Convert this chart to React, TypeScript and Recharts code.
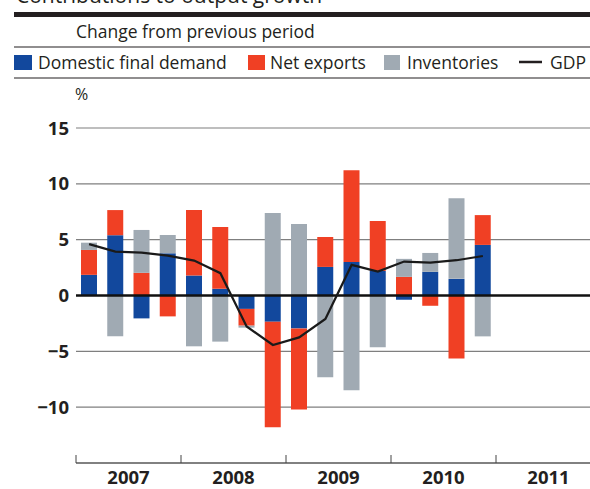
import {
  Bar,
  CartesianGrid,
  ComposedChart,
  Line,
  ReferenceLine,
  XAxis,
  YAxis,
} from "recharts";

const quarters = [
  "2007Q1", "2007Q2", "2007Q3", "2007Q4",
  "2008Q1", "2008Q2", "2008Q3", "2008Q4",
  "2009Q1", "2009Q2", "2009Q3", "2009Q4",
  "2010Q1", "2010Q2", "2010Q3", "2010Q4",
  "2011Q1", "2011Q2", "2011Q3", "2011Q4",
];

const domesticFinalDemand = [
  1.85, 5.4, -2.05, 3.78, 1.79, 0.6, -1.2, -2.35,
  -2.95, 2.56, 3.0, 2.2, -0.38, 2.12, 1.49, 4.53,
  null, null, null, null,
];
const netExports = [
  2.23, 2.25, 2.03, -1.87, 5.86, 5.53, -1.5, -9.44,
  -7.25, 2.68, 8.22, 4.47, 1.67, -0.92, -5.65, 2.67,
  null, null, null, null,
];
const inventories = [
  0.65, -3.65, 3.84, 1.64, -4.55, -4.13, -0.18, 7.38,
  6.4, -7.32, -8.48, -4.64, 1.61, 1.69, 7.23, -3.66,
  null, null, null, null,
];
const gdp = [
  4.6, 3.93, 3.84, 3.57, 3.13, 2.0, -2.77, -4.43,
  -3.75, -2.1, 2.74, 2.14, 3.04, 2.95, 3.16, 3.54,
  null, null, null, null,
];

const yTicks = [-10, -5, 0, 5, 10, 15];

const BLUE = "#12489d";
const RED = "#f04024";
const GREY = "#a0aab3";
const INK = "#231f20";
const FONT = "'Open Sans', sans-serif";

const data = quarters.map((q, i) => ({
  q,
  domestic: domesticFinalDemand[i],
  net: netExports[i],
  inv: inventories[i],
  gdp: gdp[i],
}));

// half of one quarter's band, used to put year ticks/labels on the boundaries
const HALF_BAND = 13.125;

function YearTick(props: any) {
  const { x, y, index, payload } = props;
  const edge = x - HALF_BAND;
  const year = String(payload.value).slice(0, 4);
  if (index % 4 === 0) {
    return <line x1={edge} x2={edge} y1={y - 8} y2={y} stroke="#444" strokeWidth={1} />;
  }
  if (index % 4 === 2) {
    return (
      <text x={edge} y={y + 21} textAnchor="middle" fontFamily={FONT} fontWeight={700} fontSize={18.5} fill={INK}>
        {year}
      </text>
    );
  }
  return <g />;
}

function Header() {
  return (
    <svg width={590} height={110} style={{ position: "absolute", left: 0, top: 0 }}>
      <text x={16} y={3} fontFamily={FONT} fontSize={21} fill={INK}>
        Contributions to output growth
      </text>
      <rect x={14} y={12} width={576} height={5} fill={INK} />
      <text x={76} y={38} fontFamily={FONT} fontSize={17.5} fill={INK}>
        Change from previous period
      </text>
      <line x1={14} x2={590} y1={47} y2={47} stroke={INK} strokeWidth={1.2} />
      <rect x={14} y={55} width={18} height={15} fill={BLUE} />
      <text x={38} y={69} fontFamily={FONT} fontSize={17.5} fill={INK}>
        Domestic final demand
      </text>
      <rect x={248} y={55} width={17} height={15} fill={RED} />
      <text x={270} y={69} fontFamily={FONT} fontSize={17.5} fill={INK}>
        Net exports
      </text>
      <rect x={384} y={55} width={16} height={15} fill={GREY} />
      <text x={407} y={69} fontFamily={FONT} fontSize={17.5} fill={INK}>
        Inventories
      </text>
      <line x1={519} x2={542} y1={62} y2={62} stroke={INK} strokeWidth={2.5} />
      <text x={550} y={69} fontFamily={FONT} fontSize={17.5} fill={INK}>
        GDP
      </text>
      <line x1={14} x2={590} y1={78} y2={78} stroke={INK} strokeWidth={1.2} />
      <text x={75} y={100} fontFamily={FONT} fontSize={16} fill={INK}>
        %
      </text>
    </svg>
  );
}

export default function App() {
  return (
    <div
      style={{
        position: "absolute",
        left: 0,
        top: 0,
        width: 590,
        height: 489,
        overflow: "hidden",
        background: "#fff",
      }}
    >
      <ComposedChart
        width={601}
        height={489}
        data={data}
        stackOffset="sign"
        margin={{ top: 128, right: 0, bottom: 0, left: 0 }}
      >
        <CartesianGrid vertical={false} stroke="#7f7f7f" strokeWidth={1.2} />
        <YAxis
          domain={[-15, 15]}
          ticks={yTicks}
          width={76}
          axisLine={false}
          tickLine={false}
          tickSize={0}
          tickMargin={7}
          tickFormatter={(v) => String(v).replace("-", "\u2212")}
          tick={{ fontFamily: FONT, fontWeight: 700, fontSize: 18.5, fill: INK }}
        />
        <XAxis
          dataKey="q"
          height={26}
          interval={0}
          tickSize={0}
          tickMargin={0}
          tickLine={false}
          axisLine={{ stroke: "#444", strokeWidth: 1 }}
          tick={<YearTick />}
        />
        <Bar dataKey="domestic" stackId="a" fill={BLUE} barSize={16} isAnimationActive={false} />
        <Bar dataKey="net" stackId="a" fill={RED} barSize={16} isAnimationActive={false} />
        <Bar dataKey="inv" stackId="a" fill={GREY} barSize={16} isAnimationActive={false} />
        <ReferenceLine y={0} stroke="#111" strokeWidth={2.5} />
        <Line
          dataKey="gdp"
          type="linear"
          stroke="#1a1a1a"
          strokeWidth={2.2}
          dot={false}
          isAnimationActive={false}
        />
      </ComposedChart>
      <Header />
    </div>
  );
}
